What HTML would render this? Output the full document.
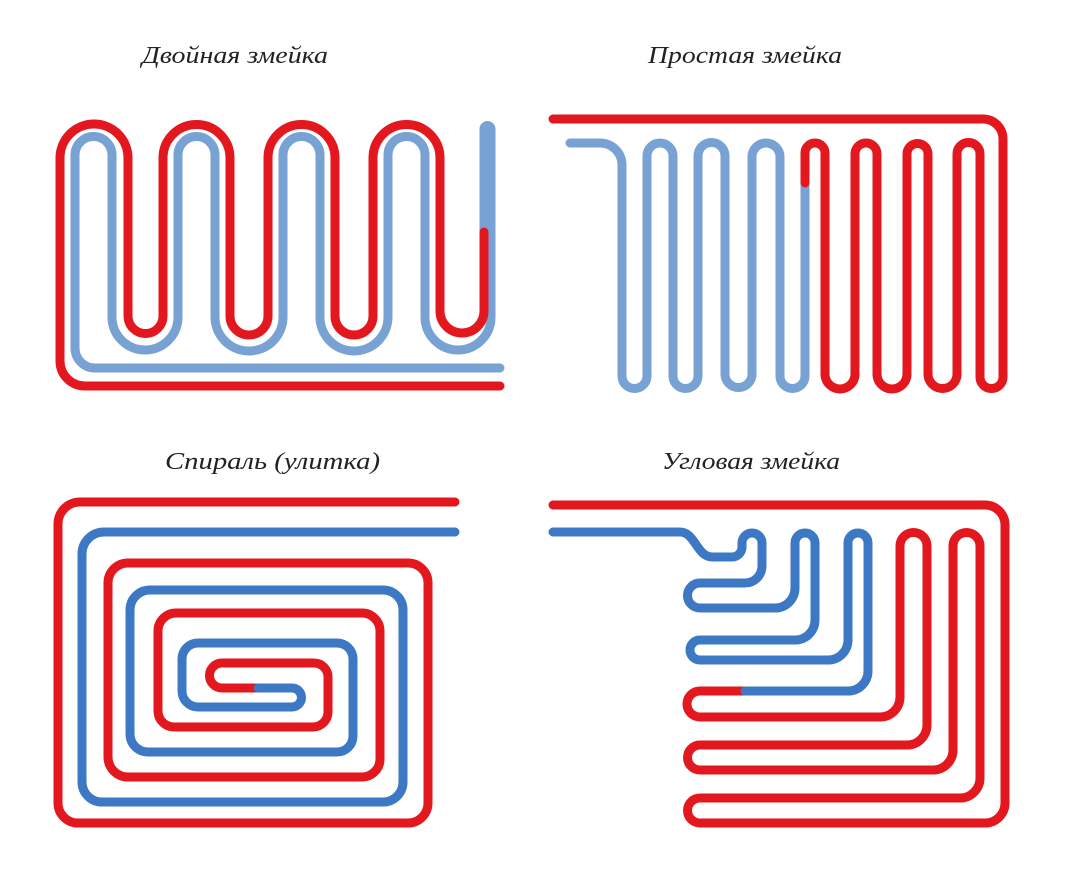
<!DOCTYPE html>
<html><head><meta charset="utf-8">
<style>
html,body{margin:0;padding:0;background:#fff;}
svg{display:block;}
text{font-family:"Liberation Serif","DejaVu Serif",serif;font-style:italic;font-size:24px;fill:#222;}
.r{stroke:#e3171e;}
.lb{stroke:#79a2d4;}
.db{stroke:#3c78c3;}
path{fill:none;stroke-width:9;stroke-linecap:round;stroke-linejoin:round;}
</style></head>
<body>
<svg width="1082" height="880" viewBox="0 0 1082 880" xmlns="http://www.w3.org/2000/svg">
<rect width="1082" height="880" fill="#fff"/>
<text x="142" y="63" textLength="186" lengthAdjust="spacingAndGlyphs">Двойная змейка</text>
<text x="648" y="63" textLength="194" lengthAdjust="spacingAndGlyphs">Простая змейка</text>
<text x="165" y="469" textLength="215" lengthAdjust="spacingAndGlyphs">Спираль (улитка)</text>
<text x="662" y="469" textLength="178" lengthAdjust="spacingAndGlyphs">Угловая змейка</text>

<!-- Top-left: double snake -->
<path class="lb" d="M500,368 H95 A20,20 0 0 1 75,348 V155 A18.5,18.5 0 0 1 112,155 V317 A33,33 0 0 0 178,317 V155 A18.5,18.5 0 0 1 215,155 V317 A34,34 0 0 0 283,317 V155 A18.5,18.5 0 0 1 320,155 V317 A34,34 0 0 0 388,317 V155 A18.5,18.5 0 0 1 425,155 V317 A33,33 0 0 0 491,317 V129 A3.5,3.5 0 0 0 484,129 V232"/>
<path class="r" d="M500,386 H85 A25,25 0 0 1 60,361 V158 A34,34 0 0 1 128,158 V316 A17.5,17.5 0 0 0 163,316 V158 A33.5,33.5 0 0 1 230,158 V316 A19,19 0 0 0 268,316 V158 A33.5,33.5 0 0 1 335,158 V316 A19,19 0 0 0 373,316 V158 A33.5,33.5 0 0 1 440,158 V311 A22,22 0 0 0 484,311 V232"/>

<!-- Top-right: simple snake -->
<path class="lb" d="M570,143 H600 A22,22 0 0 1 622,165 V376 A12.5,12.5 0 0 0 647,376 V156 A13,13 0 0 1 673,156 V376 A12.5,12.5 0 0 0 698,376 V156 A13.5,13.5 0 0 1 725,156 V374 A13.5,13.5 0 0 0 752,374 V157 A14,14 0 0 1 780,157 V376 A12.5,12.5 0 0 0 805,376 V185"/>
<path class="r" d="M553,119 H983 A20,20 0 0 1 1003,139 V377 A11.5,11.5 0 0 1 980,377 V154 A11.5,11.5 0 0 0 957,154 V374 A14.5,14.5 0 0 1 928,374 V154 A10.5,10.5 0 0 0 907,154 V374 A15,15 0 0 1 877,374 V154 A11,11 0 0 0 855,154 V374 A15,15 0 0 1 825,374 V153 A10,10 0 0 0 805,153 V183"/>

<!-- Bottom-left: spiral -->
<path class="r" d="M455,502 H80 A22,22 0 0 0 58,524 V803 A20,20 0 0 0 78,823 H408 A20,20 0 0 0 428,803 V583 A20,20 0 0 0 408,563 H128 A20,20 0 0 0 108,583 V757 A20,20 0 0 0 128,777 H362 A18,18 0 0 0 380,759 V631 A18,18 0 0 0 362,613 H176 A18,18 0 0 0 158,631 V711 A16,16 0 0 0 174,727 H313 A15,15 0 0 0 328,712 V677 A14,14 0 0 0 314,663 H222 A12.5,12.5 0 0 0 222,688 H258"/>
<path class="db" d="M455,532 H104 A22,22 0 0 0 82,554 V782 A20,20 0 0 0 102,802 H383 A20,20 0 0 0 403,782 V610 A20,20 0 0 0 383,590 H150 A20,20 0 0 0 130,610 V734 A18,18 0 0 0 148,752 H337 A16,16 0 0 0 353,736 V659 A16,16 0 0 0 337,643 H198 A16,16 0 0 0 182,659 V691 A16,16 0 0 0 198,707 H292 A9.5,9.5 0 0 0 292,688 H258"/>

<!-- Bottom-right: corner snake -->
<path class="r" d="M553,505 H985 A20,20 0 0 1 1005,525 V803 A20,20 0 0 1 985,823 H700 A12.5,12.5 0 0 1 700,798 H960 A20,20 0 0 0 980,778 V546 A13.5,13.5 0 0 0 953,546 V750 A20,20 0 0 1 933,770 H700 A12.5,12.5 0 0 1 700,745 H907 A20,20 0 0 0 927,725 V546 A13.5,13.5 0 0 0 900,546 V697 A20,20 0 0 1 880,717 H700 A13,13 0 0 1 700,691 H745"/>
<path class="db" d="M745,691 H848 A20,20 0 0 0 868,671 V543 A10,10 0 0 0 848,543 V640 A20,20 0 0 1 828,660 H700 A10,10 0 0 1 700,640 H795 A20,20 0 0 0 815,620 V543 A10,10 0 0 0 795,543 V588 A20,20 0 0 1 775,608 H700 A12.5,12.5 0 0 1 700,583 H745 A17,17 0 0 0 762,566 V543 A10,10 0 0 0 742,543 V547 A10,10 0 0 1 732,557 H712 C697,557 695,532 680,532 H553"/>
</svg>
</body></html>
